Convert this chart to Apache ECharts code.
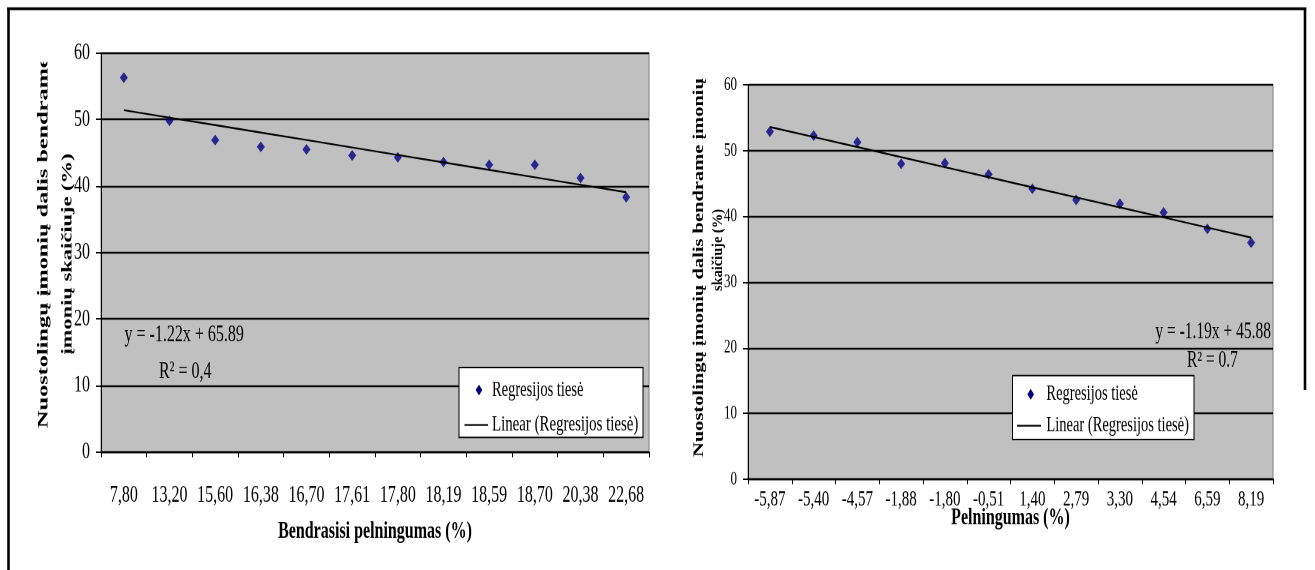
<!DOCTYPE html>
<html>
<head>
<meta charset="utf-8">
<script src="https://cdn.jsdelivr.net/npm/echarts@6/dist/echarts.min.js"></script>
<style>
  html, body { margin: 0; padding: 0; background: #fff; }
  #wrap { width: 1315px; height: 570px; overflow: hidden; position: relative; }
  /* the drawing is laid out on a 380px tall canvas and stretched to 570px, giving the tall serif lettering */
  #chart { width: 1315px; height: 380px; transform: scaleY(1.5); transform-origin: 0 0; }
</style>
</head>
<body>
<div id="wrap"><div id="chart"></div></div>
<script>
// Bendrasis pelningumas vs. share of loss-making companies
const leftCats = ['7,80', '13,20', '15,60', '16,38', '16,70', '17,61', '17,80', '18,19', '18,59', '18,70', '20,38', '22,68'];
const leftVals = [56.3, 49.8, 46.9, 45.9, 45.5, 44.6, 44.3, 43.6, 43.2, 43.2, 41.2, 38.3];
const leftEquation = 'y = -1.22x + 65.89';
const leftR2 = 'R² = 0,4';

// Pelningumas vs. share of loss-making companies
const rightCats = ['-5,87', '-5,40', '-4,57', '-1,88', '-1,80', '-0,51', '1,40', '2,79', '3,30', '4,54', '6,59', '8,19'];
const rightVals = [52.9, 52.3, 51.3, 48.0, 48.1, 46.4, 44.2, 42.5, 41.9, 40.6, 38.1, 36.0];
const rightEquation = 'y = -1.19x + 45.88';
const rightR2 = 'R² = 0.7';

const seriesName = 'Regresijos tiesė';
const trendName = 'Linear (Regresijos tiesė)';
const yTitleLeft = ['Nuostolingų įmonių dalis bendrame', 'įmonių skaičiuje (%)'];
const yTitleRight = ['Nuostolingų įmonių dalis bendrame įmonių', 'skaičiuje (%)'];
const xTitleLeft = 'Bendrasisi pelningumas (%)';
const xTitleRight = 'Pelningumas (%)';

// least-squares line over the category index (1..n), as a spreadsheet trendline does
function trend(vals) {
  const n = vals.length;
  let sx = 0, sy = 0, sxy = 0, sxx = 0;
  vals.forEach((v, i) => { const x = i + 1; sx += x; sy += v; sxy += x * v; sxx += x * x; });
  const b = (n * sxy - sx * sy) / (n * sxx - sx * sx);
  const a = (sy - b * sx) / n;
  return vals.map((_, i) => +(a + b * (i + 1)).toFixed(3));
}

const K = 1.5;               // vertical stretch of the canvas
const Y = v => v / K;        // page y -> canvas y
const SERIF = 'Liberation Serif';
const NAVY = '#000080';

function xAxisFor(gridIndex, cats, labelSize, labelMargin, name, nameGap) {
  return {
    type: 'category', gridIndex, data: cats, boundaryGap: true,
    axisLine: { show: true, lineStyle: { color: '#000', width: 1.3 } },
    axisTick: { show: true, alignWithLabel: false, interval: 0, length: 3.4, lineStyle: { color: '#000', width: 1 } },
    axisLabel: { interval: 0, margin: labelMargin, color: '#000', fontFamily: SERIF, fontSize: labelSize },
    splitLine: { show: false },
    name, nameLocation: 'middle', nameGap, nameMoveOverlap: false,
    nameTextStyle: { color: '#000', fontFamily: SERIF, fontWeight: 'bold', fontSize: 16 }
  };
}
function yAxisFor(gridIndex, labelSize) {
  return {
    type: 'value', gridIndex, min: 0, max: 60, interval: 10,
    axisLine: { show: true, lineStyle: { color: '#000', width: 1 } },
    axisTick: { show: true, length: 5, lineStyle: { color: '#000', width: 1 } },
    axisLabel: { margin: 11, color: '#000', fontFamily: SERIF, fontSize: labelSize },
    splitLine: { show: true, lineStyle: { color: '#000', width: 1.3 } }
  };
}

function legendBox(x, top, w, bottom, row1, row2, textX, fs1, fs2, diamondX, lineX0, lineX1) {
  const els = [];
  els.push({ type: 'rect', z: 100, shape: { x, y: Y(top), width: w, height: Y(bottom) - Y(top) },
    style: { fill: '#fff', stroke: '#000', lineWidth: 1 } });
  const cy1 = Y(row1), hw = 3.3, hh = 3.6;
  els.push({ type: 'polygon', z: 101, shape: { points: [[diamondX, cy1 - hh], [diamondX + hw, cy1], [diamondX, cy1 + hh], [diamondX - hw, cy1]] },
    style: { fill: NAVY } });
  els.push({ type: 'text', z: 101, x: textX, y: cy1,
    style: { text: seriesName, fill: '#000', fontFamily: SERIF, fontSize: fs1, textAlign: 'left', textVerticalAlign: 'middle' } });
  const cy2 = Y(row2);
  els.push({ type: 'line', z: 101, shape: { x1: lineX0, y1: cy2, x2: lineX1, y2: cy2 }, style: { stroke: '#000', lineWidth: 1.2 } });
  els.push({ type: 'text', z: 101, x: textX, y: cy2,
    style: { text: trendName, fill: '#000', fontFamily: SERIF, fontSize: fs2, textAlign: 'left', textVerticalAlign: 'middle' } });
  return els;
}

function rotatedTitle(text, x, y, align, stretch) {
  return { type: 'text', z: 50, x, y: Y(y), rotation: Math.PI / 2, scaleX: stretch,
    style: { text, fill: '#000', fontFamily: SERIF, fontWeight: 'bold', fontSize: 15, textAlign: align, textVerticalAlign: 'middle' } };
}
function plainText(text, x, y, align, size) {
  return { type: 'text', z: 60, x, y: Y(y),
    style: { text, fill: '#000', fontFamily: SERIF, fontSize: size, textAlign: align, textVerticalAlign: 'middle' } };
}

const graphics = [
  // axis titles for the value axes
  rotatedTitle(yTitleLeft[0], 43.5, 428, 'left', 1.08),
  rotatedTitle(yTitleLeft[1], 67.5, 254, 'center', 1.0),
  rotatedTitle(yTitleRight[0], 699, 457, 'left', 0.91),
  rotatedTitle(yTitleRight[1], 718, 250, 'center', 0.64),
  // the long first lines run off the top of their panels
  { type: 'rect', z: 55, shape: { x: 28, y: Y(12), width: 28, height: Y(62) - Y(12) }, style: { fill: '#fff' } },
  { type: 'rect', z: 55, shape: { x: 688, y: Y(12), width: 22, height: Y(78) - Y(12) }, style: { fill: '#fff' } },
  // regression equations
  plainText(leftEquation, 124.5, 335, 'left', 16),
  plainText(leftR2, 159, 372, 'left', 16),
  plainText(rightEquation, 1271, 332, 'right', 15.5),
  plainText(rightR2, 1187, 361, 'left', 15.5),
  // legends
  ...legendBox(459, 367.5, 184, 437.5, 390, 425, 492, 14.5, 14.9, 479, 464.5, 488),
  ...legendBox(1012.5, 375.5, 181.5, 439.5, 394.3, 425.7, 1046.4, 14.5, 14.5, 1030.7, 1017, 1041),
  // outer frame
  { type: 'line', z: 120, shape: { x1: 8.5, y1: Y(7.5), x2: 8.5, y2: Y(575) }, style: { stroke: '#000', lineWidth: 2.6 } },
  { type: 'line', z: 120, shape: { x1: 7.2, y1: Y(8.7), x2: 1306.3, y2: Y(8.7) }, style: { stroke: '#000', lineWidth: 1.8 } },
  { type: 'line', z: 120, shape: { x1: 1305, y1: Y(7.5), x2: 1305, y2: Y(390) }, style: { stroke: '#000', lineWidth: 2.6 } }
];

const chart = echarts.init(document.getElementById('chart'), null, { renderer: 'canvas', devicePixelRatio: 2 });
chart.setOption({
  animation: false,
  backgroundColor: '#fff',
  grid: [
    { left: 101, width: 548, top: Y(53), height: Y(452) - Y(53), show: true, backgroundColor: '#c0c0c0', borderColor: '#808080', borderWidth: 1 },
    { left: 748, width: 525, top: Y(85), height: Y(479) - Y(85), show: true, backgroundColor: '#c0c0c0', borderColor: '#808080', borderWidth: 1 }
  ],
  xAxis: [
    xAxisFor(0, leftCats, 16, 21, xTitleLeft, 45),
    xAxisFor(1, rightCats, 15, 6, xTitleRight, 18)
  ],
  yAxis: [yAxisFor(0, 16), yAxisFor(1, 13)],
  series: [
    { name: seriesName, type: 'scatter', xAxisIndex: 0, yAxisIndex: 0, data: leftVals,
      symbol: 'diamond', symbolSize: [8, 7.2], itemStyle: { color: NAVY }, z: 3 },
    { name: trendName, type: 'line', xAxisIndex: 0, yAxisIndex: 0, data: trend(leftVals),
      showSymbol: false, lineStyle: { color: '#000', width: 1.2 }, z: 4 },
    { name: seriesName, type: 'scatter', xAxisIndex: 1, yAxisIndex: 1, data: rightVals,
      symbol: 'diamond', symbolSize: [8, 7.2], itemStyle: { color: NAVY }, z: 3 },
    { name: trendName, type: 'line', xAxisIndex: 1, yAxisIndex: 1, data: trend(rightVals),
      showSymbol: false, lineStyle: { color: '#000', width: 1.2 }, z: 4 }
  ],
  graphic: graphics
});
</script>
</body>
</html>
